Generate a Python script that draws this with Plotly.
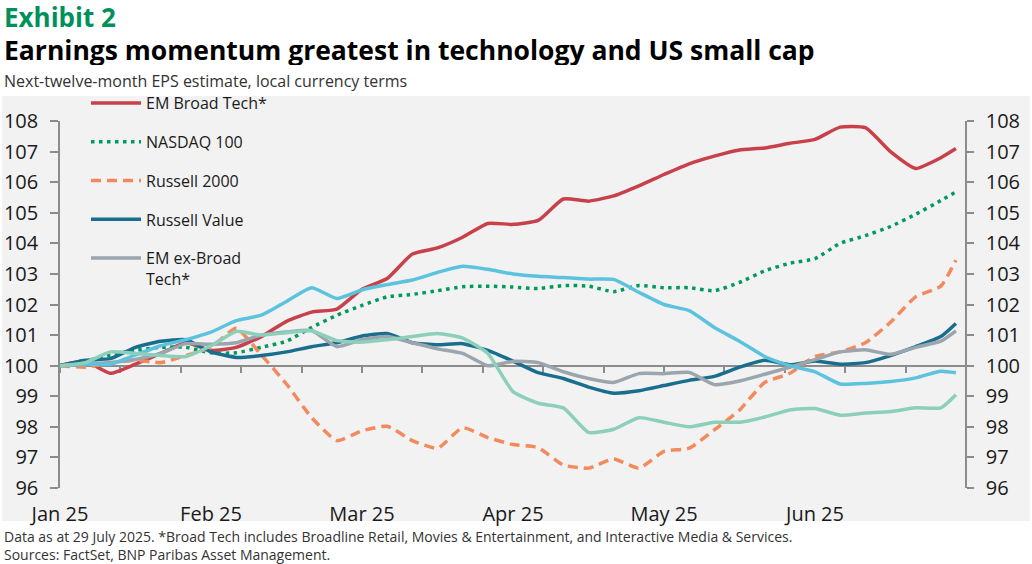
import plotly.graph_objects as go

# ---------------- data ----------------
dates = [
    "2025-01-01", "2025-01-06", "2025-01-11", "2025-01-16", "2025-01-21", "2025-01-26",
    "2025-01-31", "2025-02-05", "2025-02-10", "2025-02-15", "2025-02-20", "2025-02-25",
    "2025-03-02", "2025-03-07", "2025-03-12", "2025-03-17", "2025-03-22", "2025-03-27",
    "2025-04-01", "2025-04-06", "2025-04-11", "2025-04-16", "2025-04-21", "2025-04-26",
    "2025-05-01", "2025-05-06", "2025-05-11", "2025-05-16", "2025-05-21", "2025-05-26",
    "2025-05-31", "2025-06-05", "2025-06-10", "2025-06-15", "2025-06-20", "2025-06-25",
    "2025-06-28",
]

em_broad_tech = [100.0, 100.15, 99.75, 100.05, 100.4, 100.75, 100.5, 100.6, 100.95, 101.45,
                 101.75, 101.85, 102.5, 102.85, 103.65, 103.85, 104.2, 104.65, 104.62, 104.75,
                 105.45, 105.38, 105.55, 105.88, 106.25, 106.6, 106.85, 107.05, 107.12, 107.27,
                 107.4, 107.8, 107.78, 107.0, 106.45, 106.8, 107.1]

nasdaq_100 = [100.0, 100.15, 100.35, 100.5, 100.6, 100.6, 100.42, 100.42, 100.6, 100.8,
              101.25, 101.65, 101.97, 102.25, 102.33, 102.45, 102.58, 102.6, 102.57, 102.52,
              102.62, 102.6, 102.42, 102.62, 102.55, 102.55, 102.45, 102.72, 103.1, 103.35,
              103.5, 104.0, 104.25, 104.55, 104.95, 105.4, 105.68]

russell_2000 = [100.0, 99.95, 100.08, 100.18, 100.1, 100.33, 100.6, 101.22, 100.35, 99.4,
                98.3, 97.55, 97.87, 98.02, 97.55, 97.3, 97.97, 97.65, 97.42, 97.32,
                96.75, 96.65, 96.95, 96.65, 97.2, 97.3, 97.9, 98.55, 99.45, 99.75,
                100.3, 100.45, 100.75, 101.42, 102.25, 102.6, 103.45]

russell_value = [100.0, 100.18, 100.23, 100.6, 100.8, 100.85, 100.45, 100.27, 100.33, 100.45,
                 100.62, 100.75, 100.97, 101.05, 100.75, 100.68, 100.72, 100.5, 100.15, 99.77,
                 99.58, 99.3, 99.1, 99.18, 99.35, 99.52, 99.65, 99.95, 100.18, 100.03,
                 100.15, 100.05, 100.1, 100.33, 100.62, 100.95, 101.38]

em_ex_broad_tech = [100.0, 100.05, 100.1, 100.2, 100.4, 100.72, 100.7, 100.75, 101.0, 101.1,
                    101.15, 100.62, 100.85, 100.95, 100.75, 100.55, 100.4, 100.0, 100.14, 100.1,
                    99.8, 99.58, 99.45, 99.74, 99.74, 99.78, 99.38, 99.5, 99.72, 99.95,
                    100.2, 100.45, 100.52, 100.37, 100.6, 100.8, 101.14]

# two further series drawn in the chart without a legend entry
series_light_blue = [100.0, 100.05, 100.05, 100.35, 100.65, 100.85, 101.1, 101.47, 101.65, 102.1,
                     102.55, 102.2, 102.48, 102.65, 102.8, 103.05, 103.25, 103.15, 103.0, 102.92,
                     102.88, 102.83, 102.82, 102.4, 102.0, 101.8, 101.25, 100.8, 100.3, 100.0,
                     99.8, 99.4, 99.42, 99.48, 99.6, 99.82, 99.77]

series_mint = [100.0, 100.1, 100.45, 100.4, 100.33, 100.3, 100.65, 101.12, 101.0, 101.08,
               101.14, 100.82, 100.77, 100.85, 100.95, 101.05, 100.9, 100.4, 99.15, 98.77,
               98.62, 97.82, 97.92, 98.3, 98.15, 98.0, 98.15, 98.15, 98.32, 98.55,
               98.6, 98.38, 98.45, 98.5, 98.62, 98.62, 99.05]

y_ticks = [96, 97, 98, 99, 100, 101, 102, 103, 104, 105, 106, 107, 108]
month_tickvals = ["2025-01-01", "2025-01-31", "2025-03-02", "2025-04-01", "2025-05-01", "2025-05-31"]
month_labels = ["Jan 25", "Feb 25", "Mar 25", "Apr 25", "May 25", "Jun 25"]

# ---------------- styling ----------------
FONT = "Open Sans"
AXIS_GREY = "#8c8c8c"
TEXT = "#1a1a1a"
BG = "#f2f2f2"
LW = 3.5

W, H = 1032, 564
L, R, T, B = 60, 66, 121, 76
PW, PH = W - L - R, H - T - B


def px_x(px):
    return (px - L) / PW


def px_y(py):
    return (H - B - py) / PH


fig = go.Figure()

legend_series = [
    ("EM Broad Tech*", em_broad_tech, dict(color="#c8414a", width=LW)),
    ("NASDAQ 100", nasdaq_100, dict(color="#009a5c", width=LW, dash="3.5px,4.5px")),
    ("Russell 2000", russell_2000, dict(color="#f28a5c", width=LW, dash="10px,6px")),
    ("Russell Value", russell_value, dict(color="#196e8e", width=LW)),
    ("EM ex-Broad<br>Tech*", em_ex_broad_tech, dict(color="#9aa5ae", width=LW)),
]

for i, (name, vals, line) in enumerate(legend_series):
    fig.add_trace(go.Scatter(x=dates, y=vals, name=name, mode="lines",
                             line=dict(shape="spline", smoothing=0.5, **line),
                             legendgroup=f"g{i}", hoverinfo="skip"))

for vals, color in [(series_light_blue, "#5bc3dd"), (series_mint, "#8ccfbb")]:
    fig.add_trace(go.Scatter(x=dates, y=vals, mode="lines", showlegend=False,
                             line=dict(color=color, width=LW, shape="spline", smoothing=0.5),
                             hoverinfo="skip"))

# invisible helper trace so that the secondary axes (100-line with ticks, right y axis) are drawn
fig.add_trace(go.Scatter(x=[dates[0]], y=[100], xaxis="x2", yaxis="y2", mode="markers",
                         marker=dict(opacity=0), showlegend=False, hoverinfo="skip"))

x_range = ["2025-01-01", "2025-06-30"]

fig.update_layout(
    width=W, height=H,
    margin=dict(l=L, r=R, t=T, b=B, autoexpand=False),
    paper_bgcolor="white",
    plot_bgcolor=BG,
    font=dict(family=FONT, color=TEXT),
    xaxis=dict(type="date", range=x_range, showgrid=False, zeroline=False, showline=False,
               automargin=False,
               tickmode="array", tickvals=month_tickvals, ticktext=month_labels,
               ticks="outside", ticklen=8, tickcolor="rgba(0,0,0,0)",
               tickfont=dict(size=20, color=TEXT, family=FONT)),
    xaxis2=dict(type="date", overlaying="x", matches="x", anchor="free",
                position=(100 - 96) / (108 - 96), automargin=False,
                showline=True, linecolor=AXIS_GREY, linewidth=1.5,
                ticks="outside", ticklen=7, tickwidth=1.5, tickcolor=AXIS_GREY,
                tick0="2025-01-01", dtick=12 * 86400000,
                showticklabels=False, showgrid=False, zeroline=False, layer="below traces"),
    yaxis=dict(range=[96, 108], tickvals=y_ticks, showgrid=False, zeroline=False,
               automargin=False,
               showline=True, linecolor=AXIS_GREY, linewidth=1.5,
               ticks="outside", ticklen=8, tickwidth=1.5, tickcolor=AXIS_GREY,
               ticklabelstandoff=8,
               tickfont=dict(size=20, color=TEXT, family=FONT)),
    yaxis2=dict(range=[96, 108], matches="y", overlaying="y", side="right", anchor="free",
                position=1.0, tickvals=y_ticks, showgrid=False, zeroline=False,
                automargin=False,
                showline=True, linecolor=AXIS_GREY, linewidth=1.5,
                ticks="outside", ticklen=7, tickwidth=1.5, tickcolor=AXIS_GREY,
                ticklabelstandoff=8,
                tickfont=dict(size=20, color=TEXT, family=FONT)),
    legend=dict(x=px_x(86), y=px_y(86), xanchor="left", yanchor="top",
                bgcolor="rgba(0,0,0,0)", font=dict(size=16, color=TEXT, family=FONT),
                tracegroupgap=15, itemwidth=50, valign="top", traceorder="grouped"),
    showlegend=True,
    shapes=[dict(type="rect", xref="paper", yref="paper", layer="below",
                 x0=px_x(2), x1=px_x(1030), y0=px_y(521), y1=px_y(96),
                 fillcolor=BG, line=dict(width=0))],
    annotations=[
        dict(text="<b>Exhibit 2</b>", xref="paper", yref="paper", x=px_x(2), y=px_y(1),
             xanchor="left", yanchor="top", height=28, valign="middle", showarrow=False,
             font=dict(size=26, color="#00915a", family=FONT)),
        dict(text="<b>Earnings momentum greatest in technology and US small cap</b>",
             xref="paper", yref="paper", x=px_x(2), y=px_y(50),
             xanchor="left", yanchor="middle", height=30, valign="middle", showarrow=False,
             font=dict(size=26.5, color="#000000", family=FONT)),
        dict(text="Next-twelve-month EPS estimate, local currency terms",
             xref="paper", yref="paper", x=px_x(2), y=px_y(81),
             xanchor="left", yanchor="middle", showarrow=False,
             font=dict(size=16, color="#333333", family=FONT)),
        dict(text="Data as at 29 July 2025. *Broad Tech includes Broadline Retail, Movies & "
                  "Entertainment, and Interactive Media & Services.",
             xref="paper", yref="paper", x=px_x(2), y=px_y(536),
             xanchor="left", yanchor="middle", showarrow=False,
             font=dict(size=14, color="#333333", family=FONT)),
        dict(text="Sources: FactSet, BNP Paribas Asset Management.",
             xref="paper", yref="paper", x=px_x(2), y=px_y(554),
             xanchor="left", yanchor="middle", showarrow=False,
             font=dict(size=14, color="#333333", family=FONT)),
    ],
)

fig.write_html("out.html", config={"displayModeBar": False},
               post_script="document.body.style.margin='0px';")
